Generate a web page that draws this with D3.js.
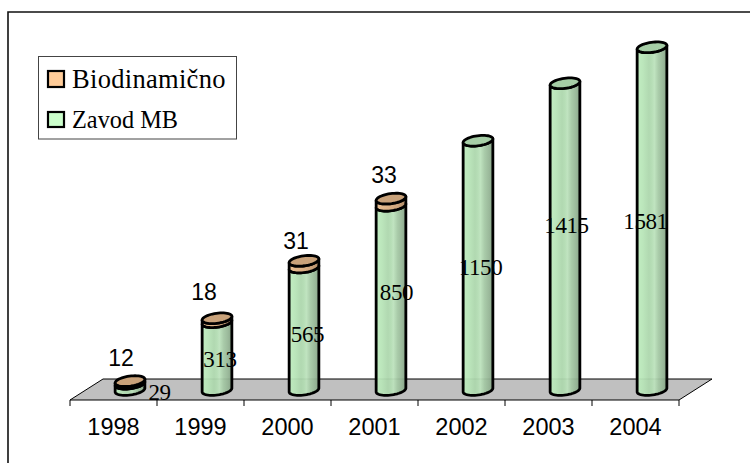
<!DOCTYPE html>
<html><head><meta charset="utf-8">
<script src="https://cdn.jsdelivr.net/npm/d3@7"></script>
<style>html,body{margin:0;padding:0;background:#fff}svg{display:block}</style>
</head><body>
<svg id="c" width="750" height="463"></svg>
<script>
const years = ["1998","1999","2000","2001","2002","2003","2004"];
const zavodMB = [29,313,565,850,1150,1415,1581];
const biodinamicno = [12,18,31,33,null,null,null];
const seriesNames = ["Biodinamično","Zavod MB"];
const legendColors = ["#FFCC99","#CCFFCC"];
// hand-placed label nudges as in the reference [dx, dy]
const zavodNudge = [[46,6],[19.5,4],[20,6],[22,-5],[19,3],[18,-11],[10,3]];
const bioNudge = [[7.5,-15],[3.5,-18],[8.5,-12],[9.5,-16]];

const svg = d3.select("#c");
const band = d3.scaleBand().domain(years).range([70,679]);
const y = d3.scaleLinear().domain([0,1581]).range([390,47.3]);
const rx = 15, ry = 5, tilt = -8*Math.PI/180, depth = [33,-21], sw = 2.8;
const defs = svg.append("defs");
function grad(id, stops){
  const g = defs.append("linearGradient").attr("id",id).attr("x1",0).attr("x2",1).attr("y1",0).attr("y2",0);
  stops.forEach(([o,c])=>g.append("stop").attr("offset",o).attr("stop-color",c));
}
grad("gGreen",[[0,"#BEEDBE"],[.2,"#B7E4B7"],[.4,"#ACD6AC"],[.5,"#B2DCB2"],[.58,"#BCE2BC"],[.72,"#A4C8A4"],[.88,"#94B494"],[1,"#82A082"]]);
grad("gTan",[[0,"#E8BE92"],[.4,"#DDB286"],[.7,"#CFA67E"],[1,"#B08C68"]]);

// frame: only the top and left edges are drawn
svg.append("path").attr("d",d3.line()([[750,12],[8,12],[8,463]])).attr("fill","none").attr("stroke","#111").attr("stroke-width",1.6);

// floor
const [fx0,fx1] = band.range(), fy = 400;
svg.append("path").attr("d",d3.line()([[fx0,fy],[fx0+depth[0],fy+depth[1]],[fx1+depth[0],fy+depth[1]],[fx1,fy]])+"Z")
  .attr("fill","#C0C0C0").attr("stroke","#000").attr("stroke-width",1);
// x axis ticks at category edges
const ticks = years.map(d=>band(d)).concat([fx1]);
svg.selectAll("line.t").data(ticks).join("line").attr("class","t")
  .attr("x1",d=>d).attr("x2",d=>d).attr("y1",fy).attr("y2",fy+6).attr("stroke","#000");
svg.selectAll("text.yr").data(years).join("text").attr("class","yr")
  .attr("x",d=>band(d)+band.bandwidth()/2).attr("y",435).attr("text-anchor","middle")
  .attr("font-family","Liberation Sans").attr("font-size",23.5).text(d=>d);

// sampled tilted half ellipse, front half from left to right
function half(cx,cy){
  return d3.range(0,25).map(k=>{
    const a = Math.PI-Math.PI*k/24;
    const ex = rx*Math.cos(a), ey = ry*Math.sin(a);
    return [cx+ex*Math.cos(tilt)-ey*Math.sin(tilt), cy+ex*Math.sin(tilt)+ey*Math.cos(tilt)];
  });
}
const line = d3.line();
function cyl(cx,y0,y1,fill,op){
  const pts = half(cx,y0).concat(half(cx,y1).reverse());
  svg.append("path").attr("d",line(pts)+"Z").attr("fill",fill).attr("fill-opacity",op)
    .attr("stroke","#000").attr("stroke-width",sw).attr("stroke-linejoin","round");
}
function cap(cx,yc,fill){
  const f = half(cx,yc);
  svg.append("path").attr("d",line(f.concat(f.map(p=>[2*cx-p[0],2*yc-p[1]])))+"Z")
    .attr("fill",fill).attr("stroke","#000").attr("stroke-width",sw);
}
years.forEach((yr,i)=>{
  const cx = band(yr)+band.bandwidth()/2+depth[0]/2;
  const v = zavodMB[i], b = biodinamicno[i];
  cyl(cx,y(0),y(v),"url(#gGreen)",0.94);
  if(b!=null){
    cyl(cx,y(v),y(v+b),"url(#gTan)",1);
    cap(cx,y(v+b),"#C9A27A");
  } else cap(cx,y(v),"#A6CEA6");
});
// zavod labels
svg.selectAll("text.z").data(zavodMB).join("text").attr("class","z")
  .attr("x",(d,i)=>band(years[i])+band.bandwidth()/2+zavodNudge[i][0])
  .attr("y",(d,i)=>y(d/2)+7+zavodNudge[i][1])
  .attr("text-anchor","middle").attr("font-family","Liberation Serif").attr("font-size",23).attr("letter-spacing",-0.4).text(d=>d);
// biodinamicno labels
svg.selectAll("text.b").data(biodinamicno.filter(d=>d!=null)).join("text").attr("class","b")
  .attr("x",(d,i)=>band(years[i])+band.bandwidth()/2+bioNudge[i][0])
  .attr("y",(d,i)=>y(zavodMB[i]+d)+bioNudge[i][1])
  .attr("text-anchor","middle").attr("font-family","Liberation Sans").attr("font-size",23).text(d=>d);

// legend
svg.append("rect").attr("x",38.5).attr("y",56.5).attr("width",198).attr("height",82.5).attr("fill","#fff").attr("stroke","#444").attr("stroke-width",1);
seriesNames.forEach((n,i)=>{
  svg.append("rect").attr("x",48).attr("y",[71,112][i]).attr("width",16).attr("height",[16,15][i]).attr("fill",legendColors[i]).attr("stroke","#000").attr("stroke-width",2.2);
  svg.append("text").attr("x",72).attr("y",[88,128][i]).attr("font-family","Liberation Serif")
    .attr("font-size",[26.5,24.3][i]).attr("letter-spacing",[0.3,0][i]).text(n);
});
</script>
</body></html>
